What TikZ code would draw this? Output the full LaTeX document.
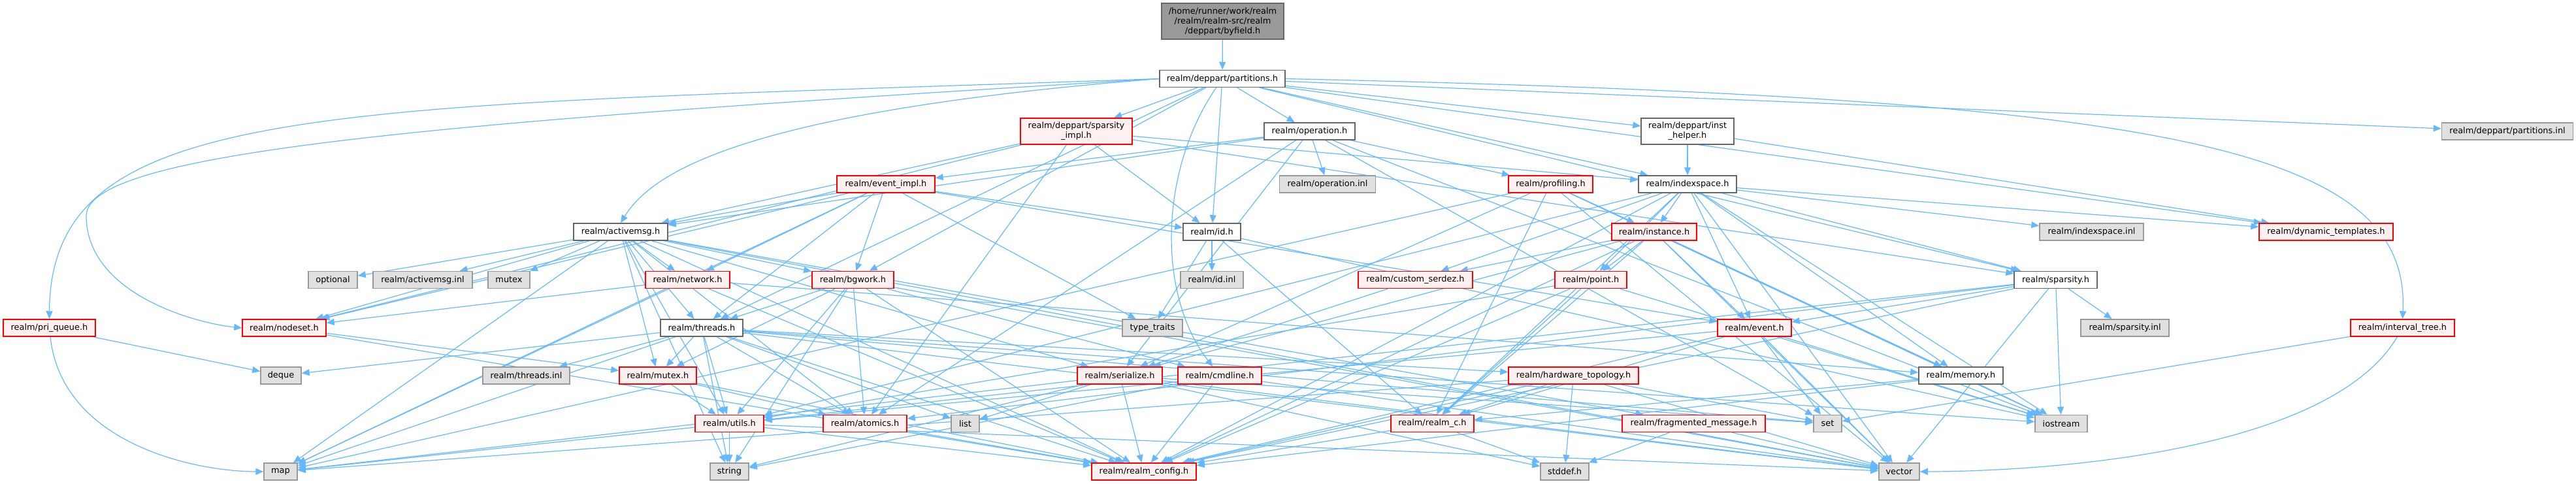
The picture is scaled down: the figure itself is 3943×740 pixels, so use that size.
\documentclass[tikz,border=0pt]{standalone}
\usepackage{fontspec}
\setmainfont{DejaVu Sans}
\usetikzlibrary{arrows.meta,backgrounds}

\definecolor{edgeblue}{HTML}{63B8FF}
\definecolor{truncfill}{HTML}{FFF0F0}
\definecolor{boxline}{HTML}{666666}
\definecolor{sysline}{HTML}{999999}
\definecolor{sysfill}{HTML}{E0E0E0}
\definecolor{rootfill}{HTML}{999999}

\begin{document}
\begin{tikzpicture}[
        x=1pt, y=-1pt,
        every node/.style={font=\fontsize{12.9}{15}\selectfont, inner sep=0pt, align=center},
        hdr/.style={rectangle, draw=boxline, fill=white, line width=1.5pt, minimum height=26pt},
        trunc/.style={hdr, draw=red, fill=truncfill},
        sys/.style={hdr, draw=sysline, fill=sysfill},
        rootbox/.style={hdr, draw=boxline, fill=rootfill},
        arr/.style={-{Triangle[length=12pt,width=10pt]}, draw=edgeblue, line width=1.2pt},
    ]
    \useasboundingbox (0,0) rectangle (3943,740);

    % row 0 and 1
    \node[rootbox, minimum width=187pt, minimum height=55pt] (root) at (1871.5,32.5) {/home/runner/work/realm\\/realm/realm-src/realm\\/deppart/byfield.h};
    \node[hdr, minimum width=192pt] (partitions) at (1871,120.5) {realm/deppart/partitions.h};

    % row 2
    \node[trunc, minimum width=171pt, minimum height=40pt] (sparsityimpl) at (1647.5,201) {realm/deppart/sparsity\\\_impl.h};
    \node[hdr, minimum width=139pt] (operation) at (2004.5,201) {realm/operation.h};
    \node[hdr, minimum width=142pt, minimum height=40pt] (insthelper) at (2583,201) {realm/deppart/inst\\\_helper.h};
    \node[sys, minimum width=201pt] (partinl) at (3838,201) {realm/deppart/partitions.inl};

    % row 3
    \node[trunc, minimum width=150pt] (eventimpl) at (1356,282) {realm/event\_impl.h};
    \node[sys, minimum width=147pt] (operationinl) at (2032,282) {realm/operation.inl};
    \node[trunc, minimum width=129pt] (profiling) at (2373.5,282) {realm/profiling.h};
    \node[hdr, minimum width=150pt] (indexspace) at (2583,282) {realm/indexspace.h};

    % row 4
    \node[hdr, minimum width=144pt] (activemsg) at (950,355) {realm/activemsg.h};
    \node[hdr, minimum width=88pt] (id) at (1855,355) {realm/id.h};
    \node[trunc, minimum width=130pt] (instance) at (2532,355) {realm/instance.h};
    \node[sys, minimum width=159pt] (indexspaceinl) at (3201.5,355) {realm/indexspace.inl};
    \node[trunc, minimum width=205pt] (dyntemplates) at (3560.5,355) {realm/dynamic\_templates.h};

    % row 5
    \node[sys, minimum width=75pt] (optional) at (509.5,428.5) {optional};
    \node[sys, minimum width=152pt] (activemsginl) at (647,428.5) {realm/activemsg.inl};
    \node[sys, minimum width=64pt] (mutex) at (779,428.5) {mutex};
    \node[trunc, minimum width=129pt] (network) at (1052.5,428.5) {realm/network.h};
    \node[trunc, minimum width=125pt] (bgwork) at (1305.5,428.5) {realm/bgwork.h};
    \node[sys, minimum width=96pt] (idinl) at (1855,428.5) {realm/id.inl};
    \node[trunc, minimum width=175pt] (customserdez) at (2166.5,428.5) {realm/custom\_serdez.h};
    \node[trunc, minimum width=110pt] (point) at (2435,428.5) {realm/point.h};
    \node[hdr, minimum width=127pt] (sparsity) at (3146.5,428.5) {realm/sparsity.h};

    % row 6
    \node[trunc, minimum width=141pt] (priqueue) at (75.5,502) {realm/pri\_queue.h};
    \node[trunc, minimum width=128pt] (nodeset) at (435,502) {realm/nodeset.h};
    \node[hdr, minimum width=126pt] (threads) at (1074,502) {realm/threads.h};
    \node[sys, minimum width=92pt] (typetraits) at (1764,502) {type\_traits};
    \node[trunc, minimum width=113pt] (event) at (2685.5,502) {realm/event.h};
    \node[sys, minimum width=135pt] (sparsityinl) at (3252.5,502) {realm/sparsity.inl};
    \node[trunc, minimum width=159pt] (intervaltree) at (3677.5,502) {realm/interval\_tree.h};

    % row 7
    \node[sys, minimum width=62pt] (deque) at (430,575) {deque};
    \node[sys, minimum width=133pt] (threadsinl) at (805.5,575) {realm/threads.inl};
    \node[trunc, minimum width=118pt] (mutexh) at (1007,575) {realm/mutex.h};
    \node[trunc, minimum width=130pt] (serialize) at (1714,575) {realm/serialize.h};
    \node[trunc, minimum width=128pt] (cmdline) at (1867,575) {realm/cmdline.h};
    \node[trunc, minimum width=199pt] (hwtopology) at (2408.5,575) {realm/hardware\_topology.h};
    \node[hdr, minimum width=129pt] (memory) at (3001.5,575) {realm/memory.h};

    % row 8
    \node[trunc, minimum width=105pt] (utils) at (1116.5,648.5) {realm/utils.h};
    \node[trunc, minimum width=128pt] (atomics) at (1324,648.5) {realm/atomics.h};
    \node[sys, minimum width=43pt] (list) at (1477.5,648.5) {list};
    \node[trunc, minimum width=127pt] (realmc) at (2192.5,648.5) {realm/realm\_c.h};
    \node[trunc, minimum width=219pt] (fragmsg) at (2592.5,648.5) {realm/fragmented\_message.h};
    \node[sys, minimum width=43pt] (set) at (2797.5,648.5) {set};
    \node[sys, minimum width=80pt] (iostream) at (3155,648.5) {iostream};

    % row 9
    \node[sys, minimum width=51pt] (map) at (429.5,722) {map};
    \node[sys, minimum width=59pt] (string) at (1116.5,722) {string};
    \node[trunc, minimum width=160pt] (realmconfig) at (1751,722) {realm/realm\_config.h};
    \node[sys, minimum width=74pt] (stddef) at (2395,722) {stddef.h};
    \node[sys, minimum width=62pt] (vector) at (2907,722) {vector};

    % include edges
    \begin{pgfonlayer}{background}
    \path (root) edge[arr] (partitions);
    \draw[arr] (partitions.west) .. controls (500,165) and (78,150) .. (priqueue.north);
    \draw[arr] (partitions.west) .. controls (700,185) and (134,230) .. (132,330) .. controls (132,450) and (300,495) .. (nodeset.west);
    \draw[arr] (partitions.west) .. controls (1150,170) and (1000,260) .. (activemsg.north);
    \draw[arr] (partitions) .. controls (1775,260) and (1770,450) .. (cmdline);
    \draw[arr] (partitions.east) .. controls (3300,150) and (3690,220) .. (intervaltree.north);
    \path (partitions) edge[arr] (threads) edge[arr] (bgwork) edge[arr] (sparsityimpl) edge[arr] (id)
        edge[arr] (operation) edge[arr] (insthelper) edge[arr] (indexspace)
        edge[arr] (sparsity) edge[arr] (dyntemplates) edge[arr] (partinl);
    \path (sparsityimpl) edge[arr] (activemsg) edge[arr] (nodeset) edge[arr] (atomics) edge[arr] (id)
        edge[arr] (indexspace) edge[arr] (sparsity);
    \path (operation) edge[arr] (eventimpl) edge[arr] (activemsg) edge[arr] (operationinl) edge[arr] (profiling)
        edge[arr] (serialize) edge[arr] (atomics) edge[arr] (iostream) edge[arr] (set);
    \path (insthelper) edge[arr] (indexspace) edge[arr] (dyntemplates);
    \path (eventimpl) edge[arr] (nodeset) edge[arr] (activemsg) edge[arr] (network) edge[arr] (threads)
        edge[arr] (bgwork) edge[arr] (id) edge[arr] (event) edge[arr] (typetraits) edge[arr] (map);
    \path (profiling) edge[arr] (instance) edge[arr] (memory) edge[arr] (serialize) edge[arr] (realmc)
        edge[arr] (map) edge[arr] (vector) edge[arr] (iostream);
    \path (indexspace) edge[arr] (instance) edge[arr] (point) edge[arr] (customserdez) edge[arr] (event)
        edge[arr] (memory) edge[arr] (realmc) edge[arr] (sparsity) edge[arr] (indexspaceinl)
        edge[arr] (dyntemplates) edge[arr] (utils) edge[arr] (realmconfig) edge[arr] (vector) edge[arr] (iostream);
    \path (activemsg) edge[arr] (optional) edge[arr] (activemsginl) edge[arr] (mutex) edge[arr] (network)
        edge[arr] (bgwork) edge[arr] (threads) edge[arr] (mutexh) edge[arr] (nodeset) edge[arr] (map)
        edge[arr] (serialize) edge[arr] (atomics) edge[arr] (fragmsg) edge[arr] (realmconfig)
        edge[arr] (utils) edge[arr] (vector) edge[arr] (string);
    \path (id) edge[arr] (idinl) edge[arr] (realmc) edge[arr] (typetraits) edge[arr] (iostream);
    \path (instance) edge[arr] (customserdez) edge[arr] (point) edge[arr] (event) edge[arr] (memory)
        edge[arr] (realmc) edge[arr] (realmconfig) edge[arr] (serialize) edge[arr] (vector);
    \path (network) edge[arr] (nodeset) edge[arr] (memory) edge[arr] (realmconfig) edge[arr] (map);
    \path (bgwork) edge[arr] (threads) edge[arr] (mutexh) edge[arr] (atomics) edge[arr] (cmdline)
        edge[arr] (realmconfig) edge[arr] (utils) edge[arr] (vector) edge[arr] (string);
    \path (customserdez) edge[arr] (serialize);
    \path (point) edge[arr] (realmconfig) edge[arr] (utils) edge[arr] (iostream) edge[arr] (realmc);
    \path (sparsity) edge[arr] (event) edge[arr] (atomics) edge[arr] (utils) edge[arr] (iostream)
        edge[arr] (sparsityinl) edge[arr] (realmconfig) edge[arr] (vector);
    \path (priqueue) edge[arr] (deque);
    \draw[arr] (priqueue) .. controls (95,680) and (300,722) .. (map.west);
    \path (nodeset) edge[arr] (mutexh) edge[arr] (realmconfig);
    \path (threads) edge[arr] (threadsinl) edge[arr] (mutexh) edge[arr] (utils) edge[arr] (atomics)
        edge[arr] (list) edge[arr] (deque) edge[arr] (map) edge[arr] (string) edge[arr] (set)
        edge[arr] (iostream) edge[arr] (vector) edge[arr] (hwtopology) edge[arr] (realmconfig);
    \path (event) edge[arr] (realmc) edge[arr] (utils) edge[arr] (set) edge[arr] (vector)
        edge[arr] (iostream) edge[arr] (realmconfig);
    \path (intervaltree) edge[arr] (set);
    \draw[arr] (intervaltree) .. controls (3560,700) and (3100,722) .. (vector.east);
    \path (mutexh) edge[arr] (utils) edge[arr] (atomics) edge[arr] (realmconfig);
    \path (serialize) edge[arr] (list) edge[arr] (realmconfig) edge[arr] (map) edge[arr] (string)
        edge[arr] (vector) edge[arr] (set) edge[arr] (stddef);
    \path (cmdline) edge[arr] (realmconfig) edge[arr] (string) edge[arr] (vector);
    \path (hwtopology) edge[arr] (realmc) edge[arr] (stddef) edge[arr] (set) edge[arr] (vector)
        edge[arr] (map) edge[arr] (realmconfig);
    \path (memory) edge[arr] (realmc) edge[arr] (realmconfig) edge[arr] (iostream);
    \path (utils) edge[arr] (string) edge[arr] (map) edge[arr] (realmconfig) edge[arr] (vector);
    \path (atomics) edge[arr] (realmconfig);
    \path (realmc) edge[arr] (realmconfig) edge[arr] (stddef);
    \path (fragmsg) edge[arr] (stddef) edge[arr] (vector);
    \end{pgfonlayer}

\end{tikzpicture}
\end{document}
